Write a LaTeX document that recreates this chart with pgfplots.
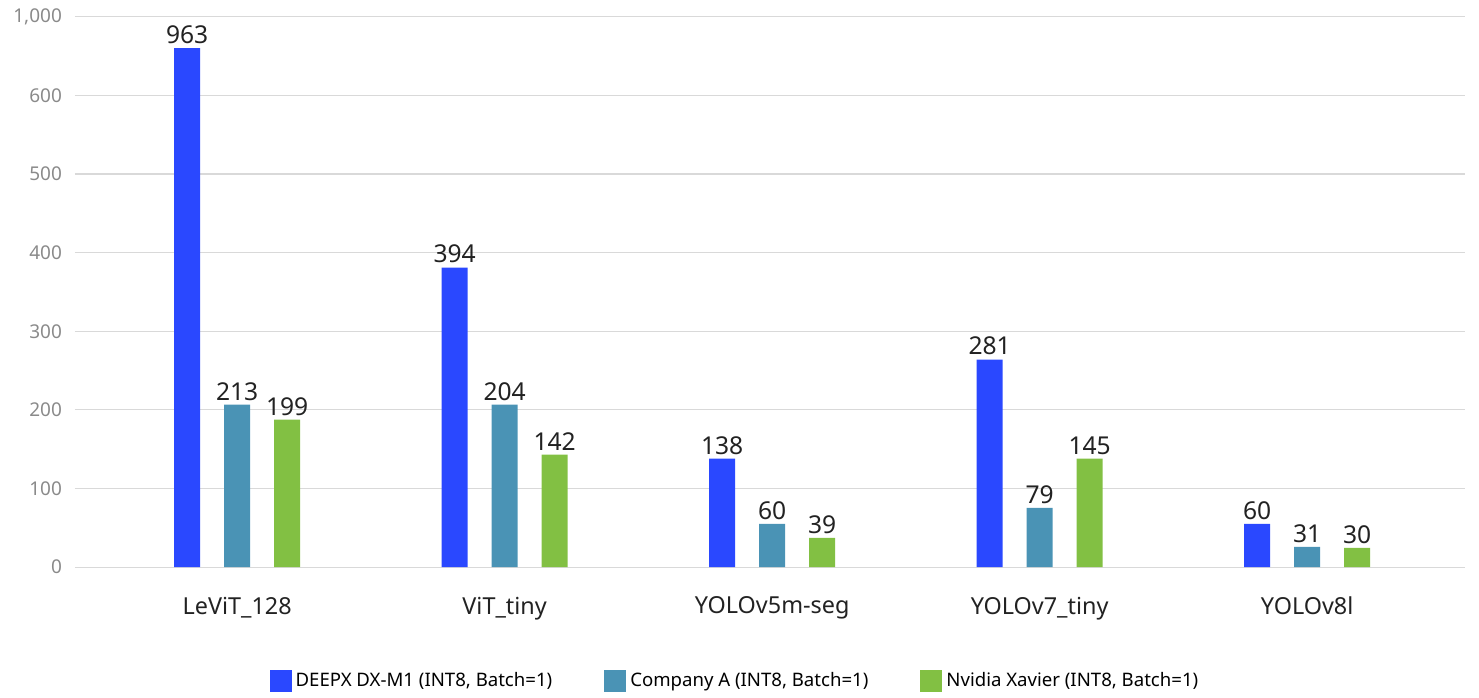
\documentclass[border=0pt]{standalone}
\usepackage{fontspec}
\setmainfont{Noto Sans}
\usepackage{pgfplots}
\pgfplotsset{compat=1.18}

\definecolor{dxblue}{HTML}{2A48FF}
\definecolor{compa}{HTML}{4A93B5}
\definecolor{xavier}{HTML}{82C043}
\definecolor{gridgray}{HTML}{D9D9D9}
\definecolor{ticktext}{HTML}{8A8A8A}
\definecolor{valtext}{HTML}{222222}

\begin{document}
\begin{tikzpicture}
% bar heights are drawn on a broken scale (top tick 1,000 sits at 700)
\begin{axis}[
    at={(37.5pt,62.4pt)}, anchor=south west,
    scale only axis,
    width=695pt, height=275.3pt,
    xmin=-0.606, xmax=4.59,
    ymin=0, ymax=700,
    ybar=12pt, bar width=13pt,
    axis line style={draw=none},
    tick style={draw=none},
    ymajorgrids, grid style={gridgray, line width=0.6pt},
    ytick={0,100,200,300,400,500,600,700},
    yticklabels={0,100,200,300,400,500,600,{1,000}},
    yticklabel style={font=\fontsize{9.5}{11}\selectfont, text=ticktext, xshift=-3pt},
    xtick={0,1,2,3,4},
    xticklabels={LeViT\_128, ViT\_tiny, YOLOv5m-seg, YOLOv7\_tiny, YOLOv8l},
    xticklabel style={font=\fontsize{11.7}{13}\selectfont, text=valtext, yshift=-7pt},
    point meta=explicit symbolic,
    nodes near coords,
    nodes near coords style={font=\fontsize{12.3}{14}\selectfont, text=valtext, inner sep=2pt},
    legend columns=3,
    legend style={at={(0.4755,-0.207)}, anchor=center, draw=none, fill=none,
        font=\fontsize{9.3}{11}\selectfont,
        /tikz/every even column/.append style={column sep=24pt}},
    legend image code/.code={\fill[#1] (0pt,-5.5pt) rectangle (11pt,5.5pt);},
]
\addplot[fill=dxblue, draw=none] coordinates {
    (0,660) [963] (1,381) [394] (2,138) [138] (3,264) [281] (4,55) [60]
};
\addplot[fill=compa, draw=none] coordinates {
    (0,206.6) [213] (1,206.6) [204] (2,55) [60] (3,75.5) [79] (4,26) [31]
};
\addplot[fill=xavier, draw=none] coordinates {
    (0,187.5) [199] (1,143) [142] (2,37.3) [39] (3,138) [145] (4,24.6) [30]
};
\legend{{DEEPX DX-M1 (INT8, Batch=1)}, {Company A (INT8, Batch=1)}, {Nvidia Xavier (INT8, Batch=1)}}
\end{axis}
\path (0pt,0pt) rectangle (739.5pt,346pt);
\end{tikzpicture}
\end{document}
